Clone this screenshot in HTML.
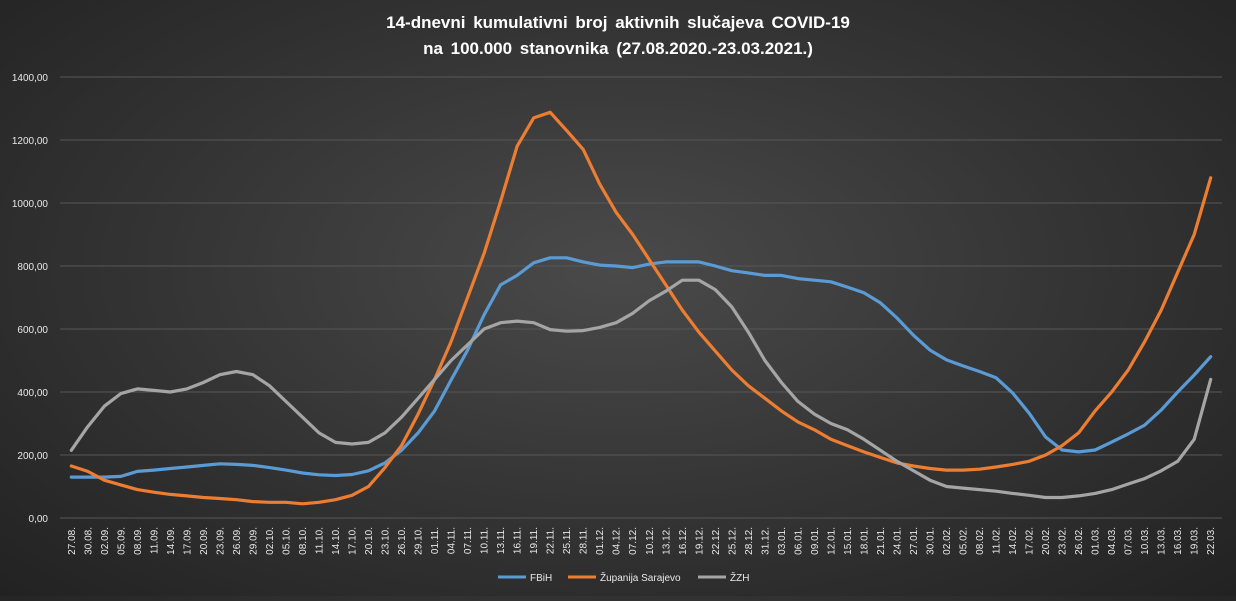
<!DOCTYPE html>
<html><head><meta charset="utf-8"><style>
html,body{margin:0;padding:0}
body{width:1236px;height:596px;overflow:hidden;background:radial-gradient(ellipse at 50% 45%,#4a4a4a 0%,#333333 55%,#222222 100%);font-family:"Liberation Sans",sans-serif}
</style></head><body>
<svg id="chart" width="1236" height="596" xmlns="http://www.w3.org/2000/svg">
<text x="618" y="28" text-anchor="middle" fill="#ffffff" font-size="17" font-weight="bold" font-family="Liberation Sans, sans-serif" word-spacing="3">14-dnevni kumulativni broj aktivnih slučajeva COVID-19</text>
<text x="618" y="54" text-anchor="middle" fill="#ffffff" font-size="17" font-weight="bold" font-family="Liberation Sans, sans-serif" word-spacing="3">na 100.000 stanovnika (27.08.2020.-23.03.2021.)</text>
<g id="grid"></g><g id="xlab"></g><g id="series"></g>
<g font-size="10" fill="#e8e8e8" font-family="Liberation Sans, sans-serif">
<g><line x1="498" y1="577" x2="526" y2="577" stroke="#5b9bd5" stroke-width="3"/><text x="530" y="581">FBiH</text></g>
<g><line x1="568" y1="577" x2="596" y2="577" stroke="#ed7d31" stroke-width="3"/><text x="600" y="581">Županija Sarajevo</text></g>
<g><line x1="698" y1="577" x2="726" y2="577" stroke="#a5a5a5" stroke-width="3"/><text x="730" y="581">ŽZH</text></g>
</g>
</svg>
<script>
const categories=["27.08.","30.08.","02.09.","05.09.","08.09.","11.09.","14.09.","17.09.","20.09.","23.09.","26.09.","29.09.","02.10.","05.10.","08.10.","11.10.","14.10.","17.10.","20.10.","23.10.","26.10.","29.10.","01.11.","04.11.","07.11.","10.11.","13.11.","16.11.","19.11.","22.11.","25.11.","28.11.","01.12.","04.12.","07.12.","10.12.","13.12.","16.12.","19.12.","22.12.","25.12.","28.12.","31.12.","03.01.","06.01.","09.01.","12.01.","15.01.","18.01.","21.01.","24.01.","27.01.","30.01.","02.02.","05.02.","08.02.","11.02.","14.02.","17.02.","20.02.","23.02.","26.02.","01.03.","04.03.","07.03.","10.03.","13.03.","16.03.","19.03.","22.03."];
const fbih=[130,130,130,132,148,152,157,162,167,172,170,167,160,152,143,137,135,138,150,175,215,270,340,438,533,645,740,770,810,826,826,813,803,800,795,806,813,813,813,800,785,778,770,770,760,755,750,733,715,683,635,580,533,502,483,465,445,397,333,257,216,210,216,241,267,295,343,400,454,512];
const sarajevo=[165,148,120,105,90,82,75,70,65,62,58,52,50,50,45,50,58,72,100,160,230,330,440,560,700,840,1005,1180,1270,1288,1230,1170,1060,970,900,820,740,660,590,530,470,420,380,340,305,280,250,230,210,192,175,165,157,152,152,155,162,170,180,200,230,270,340,400,470,560,660,780,900,1080];
const zzh=[215,290,355,395,410,405,400,410,430,455,465,455,420,370,320,270,240,235,240,270,320,380,440,500,550,600,620,625,620,598,593,595,605,620,650,690,720,755,755,725,670,590,500,430,370,330,300,280,250,215,180,150,120,100,95,90,85,78,72,65,65,70,78,90,108,125,150,180,250,440];
const yTicks=[0,200,400,600,800,1000,1200,1400];
const yTickLabels=["0,00","200,00","400,00","600,00","800,00","1000,00","1200,00","1400,00"];
const NS="http://www.w3.org/2000/svg";
const X0=60,X1=1222,Y0=518,YMAX=1400,YTOP=77;
const step=(X1-X0-6)/categories.length;
function xs(i){return X0+3+(i+0.5)*step;}
function ys(v){return Y0-(v/YMAX)*(Y0-YTOP);}
const grid=document.getElementById('grid');
yTicks.forEach((t,k)=>{
 const l=document.createElementNS(NS,'line');
 
 
 l.setAttribute('x1',X0);l.setAttribute('x2',X1);l.setAttribute('y1',ys(t));l.setAttribute('y2',ys(t));
 l.setAttribute('stroke','#575757');l.setAttribute('stroke-width','1');grid.appendChild(l);
 const tx=document.createElementNS(NS,'text');
 
 
 tx.setAttribute('x',48);tx.setAttribute('y',ys(t)+4);tx.setAttribute('text-anchor','end');
 tx.setAttribute('fill','#e8e8e8');tx.setAttribute('font-size','10');
 tx.textContent=yTickLabels[k];grid.appendChild(tx);
});
const xl=document.getElementById('xlab');
categories.forEach((c,i)=>{
 const tx=document.createElementNS(NS,'text');
 
 
 const x=xs(i)+3.5,y=527;
 tx.setAttribute('transform','translate('+x+','+y+') rotate(-90)');
 tx.setAttribute('text-anchor','end');tx.setAttribute('fill','#e8e8e8');tx.setAttribute('font-size','10');
 tx.textContent=c;xl.appendChild(tx);
});
const sg=document.getElementById('series');
[[fbih,'#5b9bd5','series-fbih'],[sarajevo,'#ed7d31','series-sarajevo'],[zzh,'#a5a5a5','series-zzh']].forEach(([d,col,n])=>{
 const p=document.createElementNS(NS,'path');
 
 
 let s='';
 d.forEach((v,i)=>{s+=(i?'L':'M')+xs(i).toFixed(1)+','+ys(v).toFixed(1);});
 p.setAttribute('d',s);p.setAttribute('fill','none');p.setAttribute('stroke',col);
 p.setAttribute('stroke-width','3.2');p.setAttribute('stroke-linejoin','round');p.setAttribute('stroke-linecap','round');
 sg.appendChild(p);
});
</script>
</body></html>
